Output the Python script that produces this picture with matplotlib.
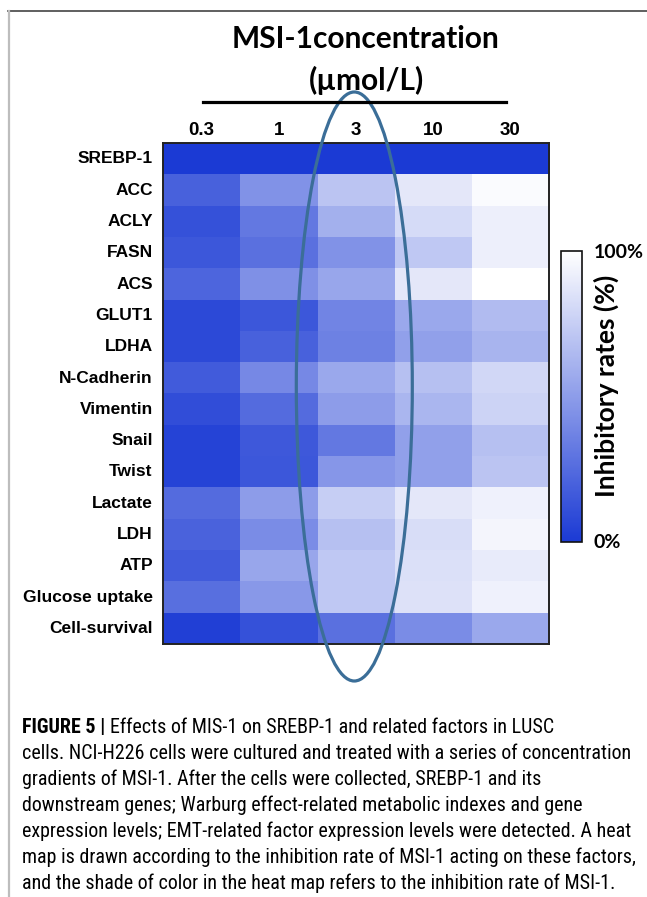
import numpy as np
import matplotlib
matplotlib.use("Agg")
import matplotlib.pyplot as plt
from matplotlib.colors import LinearSegmentedColormap
from matplotlib.patches import Ellipse
from matplotlib.lines import Line2D
from matplotlib import font_manager

# ---------------- data ----------------
concentrations = ["0.3", "1", "3", "10", "30"]
factors = ["SREBP-1", "ACC", "ACLY", "FASN", "ACS", "GLUT1", "LDHA", "N-Cadherin",
           "Vimentin", "Snail", "Twist", "Lactate", "LDH", "ATP", "Glucose uptake",
           "Cell-survival"]
rate_0_3 = [0, 20, 12, 15, 22, 8, 8, 17, 10, 5, 5, 25, 21, 17, 27, 3]
rate_1 = [0, 45, 32, 28, 44, 15, 20, 40, 25, 16, 15, 50, 42, 55, 48, 12]
rate_3 = [0, 70, 60, 45, 55, 38, 36, 56, 50, 32, 47, 75, 68, 72, 72, 28]
rate_10 = [0, 88, 82, 72, 88, 56, 52, 68, 63, 52, 52, 88, 83, 84, 85, 42]
rate_30 = [0, 98, 92, 92, 100, 66, 62, 80, 78, 68, 70, 93, 95, 90, 93, 56]
highlight_col = 2  # the "3" µmol/L column circled

caption_lines = [
    "cells. NCI-H226 cells were cultured and treated with a series of concentration",
    "gradients of MSI-1. After the cells were collected, SREBP-1 and its",
    "downstream genes; Warburg effect-related metabolic indexes and gene",
    "expression levels; EMT-related factor expression levels were detected. A heat",
    "map is drawn according to the inhibition rate of MSI-1 acting on these factors,",
    "and the shade of color in the heat map refers to the inhibition rate of MSI-1.",
]
caption_bold = "FIGURE 5 | "
caption_first = "Effects of MIS-1 on SREBP-1 and related factors in LUSC"

# ---------------- figure ----------------
W, H = 647, 897
fig = plt.figure(figsize=(W / 100, H / 100), dpi=100)
fig.patch.set_facecolor("white")

def fx(px):
    return px / W

def fy(py):
    return 1 - py / H

names = {f.name for f in font_manager.fontManager.ttflist}
cap_font = "Roboto"
for cand in ["Roboto Condensed", "Liberation Sans Narrow", "Open Sans Condensed",
             "DejaVu Sans Condensed"]:
    if cand in names:
        cap_font = cand
        break
head_font = "Lato" if "Lato" in names else "Open Sans"
lab_font = "Liberation Sans"

# frame lines
fig.add_artist(Line2D([fx(8), fx(647)], [fy(11), fy(11)], color="#444444", lw=1.2,
                      transform=fig.transFigure))
fig.add_artist(Line2D([fx(9), fx(9)], [fy(11), fy(897)], color="#bdbdbd", lw=1.6,
                      transform=fig.transFigure))

# heatmap
data = np.array([rate_0_3, rate_1, rate_3, rate_10, rate_30]).T
cmap = LinearSegmentedColormap.from_list("inhib", ["#1b3ad4", "#ffffff"])
L, R, T, B = 162.7, 549, 143.3, 644
ax = fig.add_axes([fx(L), fy(B), (R - L) / W, (B - T) / H])
im = ax.imshow(data, cmap=cmap, vmin=0, vmax=100, aspect="auto",
               extent=(0, len(concentrations), len(factors), 0), interpolation="nearest")
ax.set_xticks([])
ax.set_yticks([])
for s in ax.spines.values():
    s.set_color("#222222")
    s.set_linewidth(1.4)

colw = (R - L) / len(concentrations)
rowh = (B - T) / len(factors)
for i, c in enumerate(concentrations):
    ax.text(i + 0.5, (135 - T) / rowh, c, ha="center", va="baseline",
            fontsize=13.5, fontweight="bold", family=lab_font, clip_on=False)
for j, f in enumerate(factors):
    ax.text(-10 / colw, j + 0.5, f, ha="right", va="center",
            fontsize=12.5, fontweight="bold", family=lab_font, clip_on=False)

# ellipse around highlighted column
ell = Ellipse((highlight_col + 0.48, (386.5 - T) / rowh), width=116 / colw,
              height=589 / rowh, fill=False, edgecolor="#3b6e98", lw=2.3,
              clip_on=False, zorder=10)
ax.add_patch(ell)

# colorbar
cL, cR, cT, cB = 561, 582, 251, 542
cax = fig.add_axes([fx(cL), fy(cB), (cR - cL) / W, (cB - cT) / H])
cb = fig.colorbar(im, cax=cax)
cb.set_ticks([])
cb.outline.set_edgecolor("#111111")
cb.outline.set_linewidth(1.2)
fig.text(fx(594), fy(253), "100%", ha="left", va="center", fontsize=14,
         fontweight="bold", family=head_font)
fig.text(fx(593), fy(542), "0%", ha="left", va="center", fontsize=14,
         fontweight="bold", family=head_font)
fig.text(fx(606), fy(386), "Inhibitory rates (%)", ha="center", va="center",
         rotation=90, fontsize=19, fontweight="bold", family=head_font)

# title
fig.text(fx(366), fy(48), "MSI-1concentration", ha="center", va="baseline",
         fontsize=21.5, fontweight="bold", family=head_font)
fig.text(fx(367), fy(90), "(µmol/L)", ha="center", va="baseline",
         fontsize=21.5, fontweight="bold", family=head_font)
fig.add_artist(Line2D([fx(203), fx(506)], [fy(102), fy(102)], color="black", lw=2.3,
                      transform=fig.transFigure))

# caption
renderer = fig.canvas.get_renderer()
x0 = 22
target = 630 - 22
t = fig.text(fx(x0), fy(758), caption_lines[0], ha="left", va="baseline",
             fontsize=13, family=cap_font)
w = t.get_window_extent(renderer).width
fs = 13 * target / w
t.set_fontsize(fs)
base0 = 733
step = 26
tb = fig.text(fx(x0), fy(base0), caption_bold, ha="left", va="baseline",
              fontsize=fs, fontweight="bold", family=cap_font)
wb = tb.get_window_extent(renderer).width
fig.text(fx(x0) + wb / W, fy(base0), caption_first, ha="left", va="baseline",
         fontsize=fs, family=cap_font)
t.set_y(fy(base0 + step))
for k, line in enumerate(caption_lines[1:], start=2):
    fig.text(fx(x0), fy(base0 + step * k), line, ha="left", va="baseline",
             fontsize=fs, family=cap_font)

fig.savefig("out.png", dpi=100)
